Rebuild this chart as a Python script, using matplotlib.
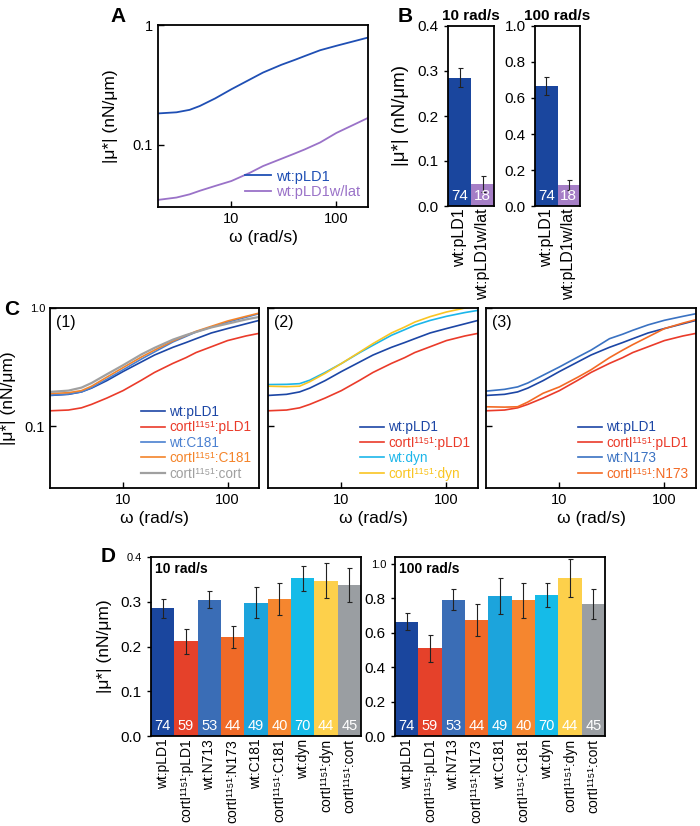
import matplotlib.pyplot as plt
from matplotlib.ticker import NullLocator

plt.rcParams['font.family'] = ['Liberation Sans', 'DejaVu Sans']
plt.rcParams['axes.linewidth'] = 1.3

SUP = '\u00b9\u00b9\u2075\u00b9'
YLAB = '|\u03bc*| (nN/\u03bcm)'
XLAB = '\u03c9 (rad/s)'

# frequencies where the curves were read (rad/s)
omega = [2, 3, 4, 5, 7, 10, 15, 20, 30, 40, 50, 70, 100, 150, 200]

wt_pld1 = [0.182, 0.186, 0.195, 0.21, 0.243, 0.29, 0.35, 0.40, 0.465, 0.51, 0.55, 0.615, 0.67, 0.735, 0.785]
wt_pld1_lat = [0.0344, 0.036, 0.0383, 0.041, 0.045, 0.0495, 0.058, 0.066, 0.076, 0.084, 0.091, 0.104, 0.125, 0.148, 0.167]
corti_pld1 = [0.135, 0.137, 0.143, 0.153, 0.173, 0.20, 0.245, 0.285, 0.34, 0.38, 0.42, 0.47, 0.53, 0.58, 0.61]
wt_c181 = [0.183, 0.187, 0.195, 0.212, 0.25, 0.30, 0.37, 0.425, 0.516, 0.575, 0.627, 0.69, 0.76, 0.835, 0.895]
corti_c181 = [0.189, 0.192, 0.20, 0.218, 0.26, 0.313, 0.385, 0.44, 0.526, 0.585, 0.635, 0.70, 0.776, 0.85, 0.905]
corti_cort = [0.195, 0.20, 0.212, 0.232, 0.275, 0.328, 0.405, 0.46, 0.54, 0.59, 0.627, 0.685, 0.737, 0.80, 0.84]
wt_dyn = [0.225, 0.226, 0.229, 0.245, 0.285, 0.339, 0.42, 0.484, 0.588, 0.655, 0.714, 0.785, 0.85, 0.915, 0.955]
corti_dyn = [0.218, 0.216, 0.218, 0.238, 0.28, 0.339, 0.425, 0.50, 0.615, 0.69, 0.76, 0.845, 0.925, 1.0, 1.05]
wt_n173 = [0.198, 0.205, 0.215, 0.232, 0.27, 0.317, 0.385, 0.44, 0.55, 0.60, 0.648, 0.72, 0.787, 0.85, 0.895]
corti_n173 = [0.146, 0.145, 0.146, 0.16, 0.19, 0.215, 0.26, 0.30, 0.38, 0.44, 0.49, 0.57, 0.669, 0.745, 0.797]

# panel B
groups_b = ['wt:pLD1', 'wt:pLD1w/lat']
n_b = [74, 18]
b_10 = [0.285, 0.0496]
b_err10 = [0.021, 0.018]
b_100 = [0.667, 0.117]
b_err100 = [0.05, 0.028]
colors_b = ['#1a469e', '#a57ec6']

# panel D
groups_d = ['wt:pLD1', 'cortI' + SUP + ':pLD1', 'wt:N713', 'cortI' + SUP + ':N173',
            'wt:C181', 'cortI' + SUP + ':C181', 'wt:dyn', 'cortI' + SUP + ':dyn',
            'cortI' + SUP + ':cort']
n_d = [74, 59, 53, 44, 49, 40, 70, 44, 45]
d_10 = [0.285, 0.212, 0.305, 0.221, 0.298, 0.307, 0.352, 0.347, 0.338]
d_err10 = [0.021, 0.028, 0.020, 0.025, 0.035, 0.036, 0.027, 0.039, 0.038]
d_100 = [0.665, 0.51, 0.792, 0.673, 0.813, 0.788, 0.819, 0.918, 0.765]
d_err100 = [0.052, 0.078, 0.062, 0.092, 0.104, 0.101, 0.071, 0.109, 0.087]
colors_d = ['#1a469e', '#e5412a', '#3a6db6', '#f06a27', '#1ca4dc', '#f5862f',
            '#15bbe8', '#fdd04b', '#9a9ea2']

C_WT = '#1c46a5'
C_CO = '#ea3b2a'

fig = plt.figure(figsize=(7, 8.26), dpi=100)


def loglog_axes(rect, ylabels=True):
    ax = fig.add_axes(rect)
    ax.set_xscale('log')
    ax.set_yscale('log')
    ax.set_xlim(2, 200)
    ax.set_ylim(0.03, 1.0)
    ax.set_xticks([10, 100])
    ax.set_xticklabels(['10', '100'], fontsize=10.5)
    ax.set_yticks([0.1, 1.0])
    ax.xaxis.set_minor_locator(NullLocator())
    ax.yaxis.set_minor_locator(NullLocator())
    ax.tick_params(direction='in', length=4, width=1)
    if not ylabels:
        ax.set_yticklabels([])
    ax.set_xlabel(XLAB, fontsize=12.5, labelpad=3)
    return ax


def colored_legend(ax, fs=9.8):
    leg = ax.legend(loc='lower right', frameon=False, fontsize=fs, handlelength=1.8,
                    handletextpad=0.3, labelspacing=0.1, borderaxespad=0.15)
    for txt, ln in zip(leg.get_texts(), leg.get_lines()):
        txt.set_color(ln.get_color())
    return leg


# ---- A ----
axA = loglog_axes([158 / 700, 1 - 207 / 826, 210 / 700, 182 / 826])
axA.set_yticklabels(['0.1', '1'], fontsize=10.5)
axA.plot(omega, wt_pld1, color='#1f4fb4', lw=1.3, label='wt:pLD1')
axA.plot(omega, wt_pld1_lat, color='#9a72c8', lw=1.3, label='wt:pLD1w/lat')
colored_legend(axA, 10.5)
axA.set_ylabel(YLAB, fontsize=12.5)
axA.yaxis.set_label_coords(-0.19, 0.5)
fig.text(118 / 700, 1 - 16 / 826, 'A', fontsize=15, fontweight='bold', va='center', ha='center')


# ---- B ----
def bar_axes(rect, vals, errs, cols, labels, counts, ymax, step, fs_num=10, fs_lab=10):
    ax = fig.add_axes(rect)
    xs = range(len(vals))
    ax.bar(xs, vals, width=1.0, color=cols, linewidth=0)
    ax.errorbar(xs, vals, yerr=errs, fmt='none', ecolor='#222222', elinewidth=0.8,
                capsize=1.8, capthick=0.8)
    for x, n in zip(xs, counts):
        ax.text(x, 0.055 * ymax, str(n), color='white', ha='center', va='center',
                fontsize=fs_num)
    ax.set_xlim(-0.5, len(vals) - 0.5)
    ax.set_ylim(0, ymax)
    ax.set_xticks(list(xs))
    ax.set_xticklabels(labels, rotation=90, fontsize=fs_lab)
    ticks = [round(i * step, 2) for i in range(int(round(min(ymax, 1.0) / step)) + 1)]
    ax.set_yticks(ticks)
    ax.set_yticklabels(['%.1f' % t for t in ticks], fontsize=11)
    ax.tick_params(axis='x', length=0, pad=2)
    ax.tick_params(axis='y', direction='out', length=3, width=1)
    return ax


axB1 = bar_axes([448 / 700, 1 - 206 / 826, 46 / 700, 180 / 826], b_10, b_err10, colors_b,
                groups_b, n_b, 0.4, 0.1, 11, 11.5)
axB1.set_ylabel(YLAB, fontsize=13.5)
axB1.yaxis.set_label_coords(-0.85, 0.5)
axB1.set_title('10 rad/s', fontsize=11, fontweight='bold', pad=4)
axB2 = bar_axes([535 / 700, 1 - 206 / 826, 45 / 700, 180 / 826], b_100, b_err100, colors_b,
                groups_b, n_b, 1.0, 0.2, 11, 11.5)
axB2.set_title('100 rad/s', fontsize=11, fontweight='bold', pad=4)
fig.text(405 / 700, 1 - 16 / 826, 'B', fontsize=15, fontweight='bold', va='center', ha='center')

# ---- C ----
crow = [1 - 488 / 826, 180 / 826]
axC1 = loglog_axes([50 / 700, crow[0], 209 / 700, crow[1]])
axC1.set_yticklabels(['0.1', '1.0'], fontsize=10.5)
axC1.get_yticklabels()[1].set_fontsize(8)
axC1.plot(omega, wt_pld1, color=C_WT, lw=1.2, label='wt:pLD1')
axC1.plot(omega, corti_pld1, color=C_CO, lw=1.2, label='cortI' + SUP + ':pLD1')
axC1.plot(omega, wt_c181, color='#4a80d0', lw=1.2, label='wt:C181')
axC1.plot(omega, corti_c181, color='#f4842a', lw=1.2, label='cortI' + SUP + ':C181')
axC1.plot(omega, corti_cort, color='#a0a0a0', lw=1.6, label='cortI' + SUP + ':cort')
colored_legend(axC1)
axC1.set_ylabel(YLAB, fontsize=12.5)
axC1.yaxis.set_label_coords(-0.165, 0.5)
axC1.text(0.03, 0.96, '(1)', transform=axC1.transAxes, fontsize=11.5, va='top')

axC2 = loglog_axes([268 / 700, crow[0], 210 / 700, crow[1]], ylabels=False)
axC2.plot(omega, wt_pld1, color=C_WT, lw=1.2, label='wt:pLD1')
axC2.plot(omega, corti_pld1, color=C_CO, lw=1.2, label='cortI' + SUP + ':pLD1')
axC2.plot(omega, wt_dyn, color='#1cb6ea', lw=1.2, label='wt:dyn')
axC2.plot(omega, corti_dyn, color='#f9c523', lw=1.2, label='cortI' + SUP + ':dyn')
colored_legend(axC2)
axC2.text(0.03, 0.96, '(2)', transform=axC2.transAxes, fontsize=11.5, va='top')

axC3 = loglog_axes([486 / 700, crow[0], 210 / 700, crow[1]], ylabels=False)
axC3.plot(omega, wt_pld1, color=C_WT, lw=1.2, label='wt:pLD1')
axC3.plot(omega, corti_pld1, color=C_CO, lw=1.2, label='cortI' + SUP + ':pLD1')
axC3.plot(omega, wt_n173, color='#3a72c2', lw=1.2, label='wt:N173')
axC3.plot(omega, corti_n173, color='#f36a24', lw=1.2, label='cortI' + SUP + ':N173')
colored_legend(axC3)
axC3.text(0.03, 0.96, '(3)', transform=axC3.transAxes, fontsize=11.5, va='top')
fig.text(12 / 700, 1 - 310 / 826, 'C', fontsize=15, fontweight='bold', va='center', ha='center')

# ---- D ----
axD1 = bar_axes([151 / 700, 1 - 736 / 826, 210 / 700, 179 / 826], d_10, d_err10, colors_d,
                groups_d, n_d, 0.4, 0.1, 10.5, 10)
axD1.get_yticklabels()[-1].set_fontsize(8)
axD1.set_ylabel(YLAB, fontsize=12.5)
axD1.yaxis.set_label_coords(-0.185, 0.5)
axD1.text(0.02, 0.97, '10 rad/s', transform=axD1.transAxes, fontsize=10,
          fontweight='bold', va='top')

axD2 = bar_axes([395 / 700, 1 - 736 / 826, 210 / 700, 179 / 826], d_100, d_err100, colors_d,
                groups_d, n_d, 1.04, 0.2, 10.5, 10)
axD2.get_yticklabels()[-1].set_fontsize(8)
axD2.text(0.02, 0.97, '100 rad/s', transform=axD2.transAxes, fontsize=10,
          fontweight='bold', va='top')
fig.text(108 / 700, 1 - 557 / 826, 'D', fontsize=15, fontweight='bold', va='center', ha='center')

fig.savefig('out.png', dpi=100)
